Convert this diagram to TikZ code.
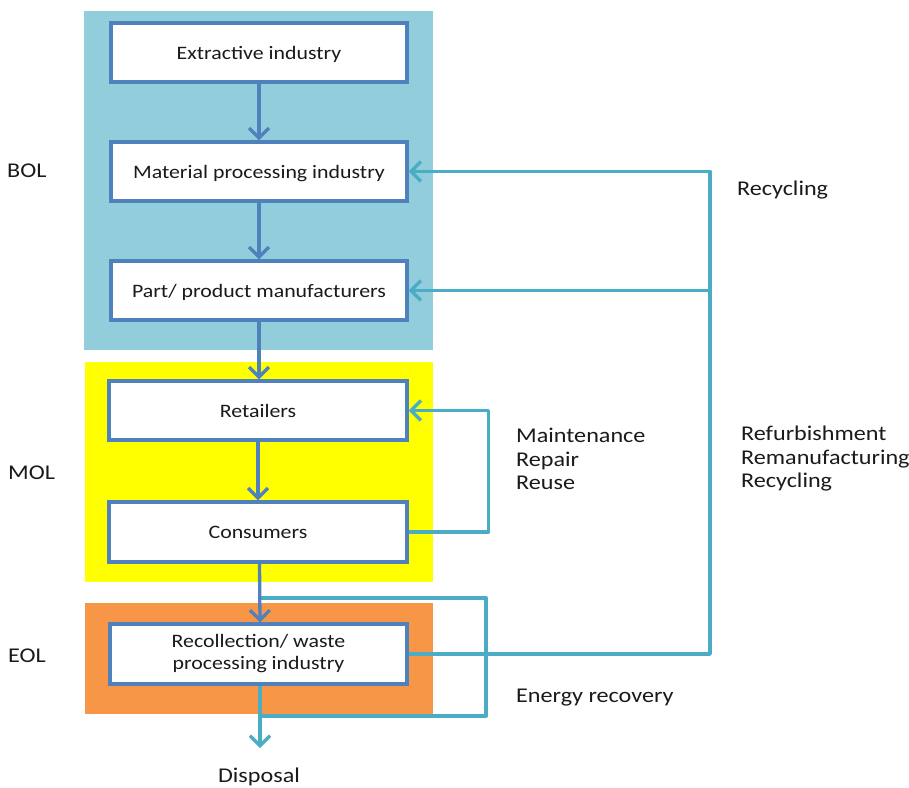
\documentclass[tikz,border=0pt]{standalone}
\usepackage{fontspec}
\setmainfont{Carlito}[FakeStretch=1.15]
\usetikzlibrary{arrows.meta}
\definecolor{bolbg}{RGB}{146,205,220}
\definecolor{molbg}{RGB}{255,255,0}
\definecolor{eolbg}{RGB}{247,150,70}
\definecolor{boxline}{RGB}{79,129,189}
\definecolor{loopline}{RGB}{75,172,198}
\definecolor{ink}{RGB}{26,26,26}
\tikzset{
  stage/.style={draw=boxline, line width=3.3pt, fill=white, minimum height=59pt,
    minimum width=296pt, align=center, text=ink, inner sep=0pt,
    font=\fontsize{19}{22}\selectfont},
  oneline/.style={text depth=0pt},
  label/.style={text=ink, inner sep=0pt, font=\fontsize{21}{23.5}\selectfont},
  flow/.style={draw=boxline, line width=3.3pt,
    -{Straight Barb[length=10pt,width=20pt,line width=3.3pt]}},
  loop/.style={draw=loopline, line width=3.3pt, line join=round},
  looparr/.style={loop, -{Straight Barb[length=10pt,width=20pt,line width=3.3pt]}},
}
\begin{document}
\begin{tikzpicture}[x=1pt,y=-1pt]
\useasboundingbox (0,0) rectangle (909,787);
% life-cycle phase backgrounds
\fill[bolbg] (84,11) rectangle (433,350);
\fill[molbg] (85,362) rectangle (433,582);
\fill[eolbg] (85,603) rectangle (433,714);

% phase labels
\node[label, anchor=west] (bol) at (7,171) {BOL};
\node[label, anchor=west] (mol) at (8,473) {MOL};
\node[label, anchor=west] (eol) at (8,656) {EOL};

% stages
\node[stage, oneline] (ext)  at (259,52.5)  {Extractive industry};
\node[stage, oneline] (mat)  at (259,171.5) {Material processing industry};
\node[stage, oneline] (part) at (259,290.5) {Part/ product manufacturers};
\node[stage, oneline, minimum width=298pt] (ret) at (258,410.5) {Retailers};
\node[stage, oneline, minimum width=298pt, minimum height=60pt] (con) at (258,532) {Consumers};
\node[stage, minimum width=297pt, minimum height=60pt] (rec) at (258.5,654)
  {Recollection/ waste\\processing industry};

\node[label] (disp) at (259,777) {Disposal};
\node[label, anchor=west] (recy) at (737,190) {Recycling};
\node[label, anchor=west, align=left] (mrr) at (516,459)
  {Maintenance\\Repair\\Reuse};
\node[label, anchor=west, align=left] (rrr) at (741,459)
  {Refurbishment\\Remanufacturing\\Recycling};
\node[label, anchor=west] (enr) at (516,698) {Energy recovery};

% loop-back routes
\coordinate (rtop) at (710,171.5);
\draw[looparr] (rec.east) -| (rtop) -- (mat.east);
\draw[looparr] (rtop |- part.east) -- (part.east);
\draw[looparr] (con.east) -| ([xshift=80pt]ret.east) -- (ret.east);

\coordinate (ebot) at (260,716);
\coordinate (ecorner) at (486,598);
\coordinate (etop) at (260,598);
\draw[loop] (ebot) -| (ecorner) -- (etop);
\coordinate (dtip) at (260,748);
\draw[looparr] ([xshift=1.5pt]rec.south) -- (dtip);

% main flow
\draw[flow] (ext.south) -- (mat.north);
\draw[flow] (mat.south) -- (part.north);
\draw[flow] (part.south) -- (part.south |- ret.north);
\draw[flow] (ret.south) -- (con.south |- con.north);
\draw[flow] ([xshift=1.5pt]con.south) -- ([xshift=1.5pt]rec.north);
\end{tikzpicture}
\end{document}
